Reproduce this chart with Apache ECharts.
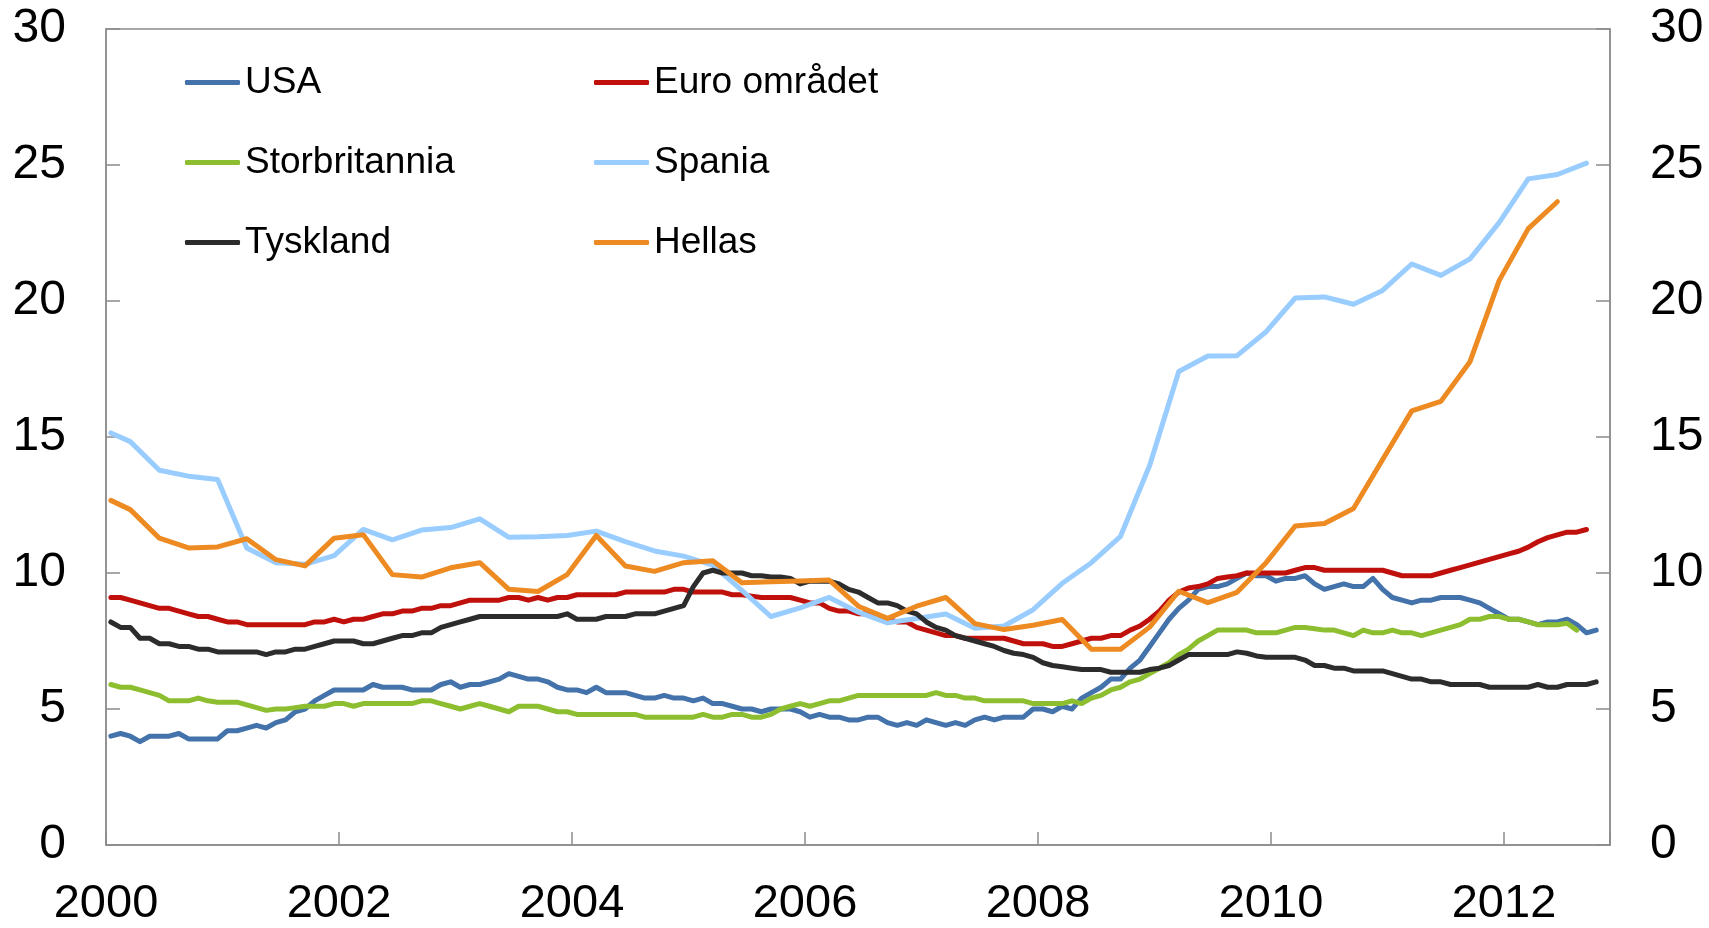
<!DOCTYPE html>
<html><head><meta charset="utf-8">
<script src="https://cdn.jsdelivr.net/npm/echarts@6/dist/echarts.min.js"></script>
<style>html,body{margin:0;padding:0;background:#fff}#c{width:1709px;height:928px}</style>
</head><body><div id="c"></div>
<script>
// Monthly series, first value = January 2000
const usa = [
 4.0,4.1,4.0,3.8,4.0,4.0,4.0,4.1,3.9,3.9,3.9,3.9,
 4.2,4.2,4.3,4.4,4.3,4.5,4.6,4.9,5.0,5.3,5.5,5.7,
 5.7,5.7,5.7,5.9,5.8,5.8,5.8,5.7,5.7,5.7,5.9,6.0,
 5.8,5.9,5.9,6.0,6.1,6.3,6.2,6.1,6.1,6.0,5.8,5.7,
 5.7,5.6,5.8,5.6,5.6,5.6,5.5,5.4,5.4,5.5,5.4,5.4,
 5.3,5.4,5.2,5.2,5.1,5.0,5.0,4.9,5.0,5.0,5.0,4.9,
 4.7,4.8,4.7,4.7,4.6,4.6,4.7,4.7,4.5,4.4,4.5,4.4,
 4.6,4.5,4.4,4.5,4.4,4.6,4.7,4.6,4.7,4.7,4.7,5.0,
 5.0,4.9,5.1,5.0,5.4,5.6,5.8,6.1,6.1,6.5,6.8,7.3,
 7.8,8.3,8.7,9.0,9.4,9.5,9.5,9.6,9.8,10.0,9.9,9.9,
 9.7,9.8,9.8,9.9,9.6,9.4,9.5,9.6,9.5,9.5,9.8,9.4,
 9.1,9.0,8.9,9.0,9.0,9.1,9.1,9.1,9.0,8.9,8.7,8.5,
 8.3,8.3,8.2,8.1,8.2,8.2,8.3,8.1,7.8,7.9
];
const euro = [
 9.1,9.1,9.0,8.9,8.8,8.7,8.7,8.6,8.5,8.4,8.4,8.3,
 8.2,8.2,8.1,8.1,8.1,8.1,8.1,8.1,8.1,8.2,8.2,8.3,
 8.2,8.3,8.3,8.4,8.5,8.5,8.6,8.6,8.7,8.7,8.8,8.8,
 8.9,9.0,9.0,9.0,9.0,9.1,9.1,9.0,9.1,9.0,9.1,9.1,
 9.2,9.2,9.2,9.2,9.2,9.3,9.3,9.3,9.3,9.3,9.4,9.4,
 9.3,9.3,9.3,9.3,9.2,9.2,9.15,9.1,9.1,9.1,9.1,9.0,
 8.9,8.9,8.7,8.6,8.6,8.5,8.5,8.4,8.3,8.2,8.2,8.0,
 7.9,7.8,7.7,7.7,7.6,7.6,7.6,7.6,7.6,7.5,7.4,7.4,
 7.4,7.3,7.3,7.4,7.5,7.6,7.6,7.7,7.7,7.9,8.05,8.3,
 8.6,9.0,9.3,9.45,9.5,9.6,9.8,9.85,9.9,10.0,10.0,10.0,
 10.0,10.0,10.1,10.2,10.2,10.1,10.1,10.1,10.1,10.1,10.1,10.1,
 10.0,9.9,9.9,9.9,9.9,10.0,10.1,10.2,10.3,10.4,10.5,10.6,
 10.7,10.8,10.95,11.15,11.3,11.4,11.5,11.5,11.6
];
const uk = [
 5.9,5.8,5.8,5.7,5.6,5.5,5.3,5.3,5.3,5.4,5.3,5.25,
 5.25,5.25,5.15,5.05,4.95,5.0,5.0,5.05,5.1,5.1,5.1,5.2,
 5.2,5.1,5.2,5.2,5.2,5.2,5.2,5.2,5.3,5.3,5.2,5.1,
 5.0,5.1,5.2,5.1,5.0,4.9,5.1,5.1,5.1,5.0,4.9,4.9,
 4.8,4.8,4.8,4.8,4.8,4.8,4.8,4.7,4.7,4.7,4.7,4.7,
 4.7,4.8,4.7,4.7,4.8,4.8,4.7,4.7,4.8,5.0,5.1,5.2,
 5.1,5.2,5.3,5.3,5.4,5.5,5.5,5.5,5.5,5.5,5.5,5.5,
 5.5,5.6,5.5,5.5,5.4,5.4,5.3,5.3,5.3,5.3,5.3,5.2,
 5.2,5.2,5.2,5.3,5.2,5.4,5.5,5.7,5.8,6.0,6.1,6.3,
 6.5,6.7,7.0,7.2,7.5,7.7,7.9,7.9,7.9,7.9,7.8,7.8,
 7.8,7.9,8.0,8.0,7.95,7.9,7.9,7.8,7.7,7.9,7.8,7.8,
 7.9,7.8,7.8,7.7,7.8,7.9,8.0,8.1,8.3,8.3,8.4,8.4,
 8.3,8.3,8.2,8.1,8.1,8.1,8.15,7.9
];
const germany = [
 8.2,8.0,8.0,7.6,7.6,7.4,7.4,7.3,7.3,7.2,7.2,7.1,
 7.1,7.1,7.1,7.1,7.0,7.1,7.1,7.2,7.2,7.3,7.4,7.5,
 7.5,7.5,7.4,7.4,7.5,7.6,7.7,7.7,7.8,7.8,8.0,8.1,
 8.2,8.3,8.4,8.4,8.4,8.4,8.4,8.4,8.4,8.4,8.4,8.5,
 8.3,8.3,8.3,8.4,8.4,8.4,8.5,8.5,8.5,8.6,8.7,8.8,
 9.5,10.0,10.1,10.0,10.0,10.0,9.9,9.9,9.85,9.85,9.8,9.6,
 9.7,9.7,9.7,9.6,9.4,9.3,9.1,8.9,8.9,8.8,8.6,8.5,
 8.2,8.0,7.9,7.7,7.6,7.5,7.4,7.3,7.15,7.05,7.0,6.9,
 6.7,6.6,6.55,6.5,6.45,6.45,6.45,6.35,6.35,6.35,6.35,6.45,
 6.5,6.6,6.8,7.0,7.0,7.0,7.0,7.0,7.1,7.05,6.95,6.9,
 6.9,6.9,6.9,6.8,6.6,6.6,6.5,6.5,6.4,6.4,6.4,6.4,
 6.3,6.2,6.1,6.1,6.0,6.0,5.9,5.9,5.9,5.9,5.8,5.8,
 5.8,5.8,5.8,5.9,5.8,5.8,5.9,5.9,5.9,6.0
];
// Quarterly series: one observation for January 2000, then quarters from 2000Q1 (dated at quarter's last month)
const spainJan2000 = 15.15;
const spainQ = [
 14.83,13.78,13.56,13.44,
 10.92,10.38,10.32,10.64,
 11.6,11.22,11.58,11.67,
 11.99,11.31,11.33,11.38,
 11.54,11.15,10.81,10.62,
 10.29,9.36,8.4,8.72,
 9.1,8.56,8.17,8.33,
 8.49,7.97,8.05,8.65,
 9.62,10.38,11.35,13.95,
 17.41,17.98,17.99,18.87,
 20.11,20.15,19.88,20.39,
 21.36,20.94,21.55,22.88,
 24.49,24.65,25.07
];
const greeceJan2000 = 12.67;
const greeceQ = [
 12.33,11.28,10.92,10.96,
 11.26,10.49,10.26,11.28,
 11.41,9.94,9.85,10.19,
 10.38,9.4,9.32,9.94,
 11.38,10.26,10.06,10.38,
 10.45,9.64,9.68,9.71,
 9.74,8.78,8.33,8.78,
 9.1,8.14,7.92,8.08,
 8.29,7.2,7.2,8.01,
 9.33,8.91,9.29,10.38,
 11.73,11.82,12.37,14.17,
 15.96,16.31,17.77,20.75,
 22.66,23.65
];
const yTicks = [0,5,10,15,20,25,30];
const xYears = [2000,2002,2004,2006,2008,2010,2012];

const names = ['USA','Euro området','Storbritannia','Spania','Tyskland','Hellas'];
const colors = ['#4472AA','#C0100C','#8CBE2F','#99CCFF','#2C2C2C','#EE8A22'];

// date -> position on the year axis (monthly observation centred in its month)
function monthPos(monthIndex){ return 2000 + (monthIndex + 0.5) / 12; }
function monthly(arr){ return arr.map((v,i)=>[monthPos(i), v]); }
function quarterly(first, arr){ return [[monthPos(0), first]].concat(arr.map((v,q)=>[monthPos(3*q+2), v])); }

const seriesData = [monthly(usa), monthly(euro), monthly(uk), quarterly(spainJan2000, spainQ), monthly(germany), quarterly(greeceJan2000, greeceQ)];

const FONT = 'Liberation Sans, Arial, sans-serif';
const axisGrey = '#8C8C8C';

function leg(name, left, top){
  return {data:[name], left:left, top:top, orient:'horizontal', icon:'roundRect',
    itemWidth:55, itemHeight:5, itemGap:0, padding:0, selectedMode:false,
    textStyle:{fontSize:37, fontFamily:FONT, color:'#000'}};
}

function yAxisCfg(pos){
  return {type:'value', position:pos, min:yTicks[0], max:yTicks[yTicks.length-1], interval:yTicks[1]-yTicks[0],
    axisLine:{show:true, lineStyle:{color:axisGrey, width:1.5}},
    axisTick:{show:true, inside:true, length:14, lineStyle:{color:axisGrey, width:1.5}},
    axisLabel:{fontSize:48, fontFamily:FONT, color:'#000', margin:40},
    splitLine:{show:false}};
}

const chart = echarts.init(document.getElementById('c'), null, {renderer:'canvas'});
chart.setOption({
  animation:false,
  backgroundColor:'#fff',
  grid:{left:106, right:99, top:29, bottom:81, show:true, borderColor:axisGrey, borderWidth:1.5, backgroundColor:'transparent'},
  legend:[
    leg(names[0],185,64), leg(names[1],594,64),
    leg(names[2],185,144), leg(names[3],594,144),
    leg(names[4],185,224), leg(names[5],594,224)
  ],
  xAxis:{type:'value', min:xYears[0], max:2012.91, interval:xYears[1]-xYears[0],
    axisLine:{show:true, onZero:false, lineStyle:{color:axisGrey, width:1.5}},
    axisTick:{show:true, inside:true, length:13, lineStyle:{color:axisGrey, width:1.5}},
    axisLabel:{fontSize:47, fontFamily:FONT, color:'#000', margin:36,
      formatter:function(v){ return xYears.indexOf(v) >= 0 ? String(v) : ''; }},
    splitLine:{show:false}},
  yAxis:[yAxisCfg('left'), yAxisCfg('right')],
  series: names.map((n,i)=>({
    name:n, type:'line', data:seriesData[i], symbol:'none', showSymbol:false,
    color:colors[i], lineStyle:{color:colors[i], width:5, cap:'round', join:'round'},
    z:2+i
  }))
});
</script></body></html>
